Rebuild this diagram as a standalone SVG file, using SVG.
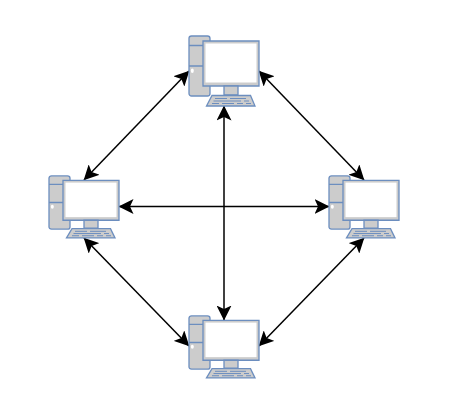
<svg xmlns="http://www.w3.org/2000/svg" width="457" height="410" viewBox="0 0 457 410">
<style>
.b{fill:#cccccc;stroke:#6c8ebf;stroke-width:1.3;vector-effect:non-scaling-stroke}
.t{fill:none;stroke:#6c8ebf;stroke-width:1;vector-effect:non-scaling-stroke}
.w{fill:#ffffff;stroke:none}
.c{fill:none;stroke:#000000;stroke-width:1.5}
</style>
<defs>
<marker id="a" viewBox="0 0 15 15" refX="14.500" refY="7.500" markerWidth="15" markerHeight="15" markerUnits="userSpaceOnUse" orient="auto-start-reverse"><path d="M15 7.500L0 0L3.500 7.500L0 15Z" fill="#000"/></marker>
<g id="pc">
<rect class="b" x="0" y="0.500" width="21" height="60" rx="2.500"/>
<path class="b" d="M0 10H21M0 30.500H21"/>
<ellipse class="w" cx="3.300" cy="35.300" rx="1.500" ry="2.200"/>
<rect class="b" x="14" y="5.500" width="56" height="45"/>
<rect class="w" x="16.500" y="8" width="51" height="39"/>
<rect class="b" x="35" y="50.500" width="14" height="9"/>
<path class="b" d="M23 60H61.500L66 70.500H17.500Z"/>
<path class="t" d="M26 63H38M41 63H57M24.500 65.500H52M55 65.500H60M23 68H30M33 68H45M48 68H54M57 68H62"/>
</g>
</defs>
<g id="connectors">
<path class="c" marker-start="url(#a)" marker-end="url(#a)" d="M189 71L84 180"/>
<path class="c" marker-start="url(#a)" marker-end="url(#a)" d="M259 71L364 180"/>
<path class="c" marker-start="url(#a)" marker-end="url(#a)" d="M119 206.500H329"/>
<path class="c" marker-start="url(#a)" marker-end="url(#a)" d="M224 106V320"/>
<path class="c" marker-start="url(#a)" marker-end="url(#a)" d="M84 238L189 346"/>
<path class="c" marker-start="url(#a)" marker-end="url(#a)" d="M364 238L259 346"/>
</g>
<g id="node-top"><use href="#pc" transform="translate(189,35.500)"/></g>
<g id="node-left"><use href="#pc" transform="translate(49,175.500) scale(1,0.886)"/></g>
<g id="node-right"><use href="#pc" transform="translate(329,175.500) scale(1,0.886)"/></g>
<g id="node-bottom"><use href="#pc" transform="translate(189,315.500) scale(1,0.886)"/></g>
</svg>
